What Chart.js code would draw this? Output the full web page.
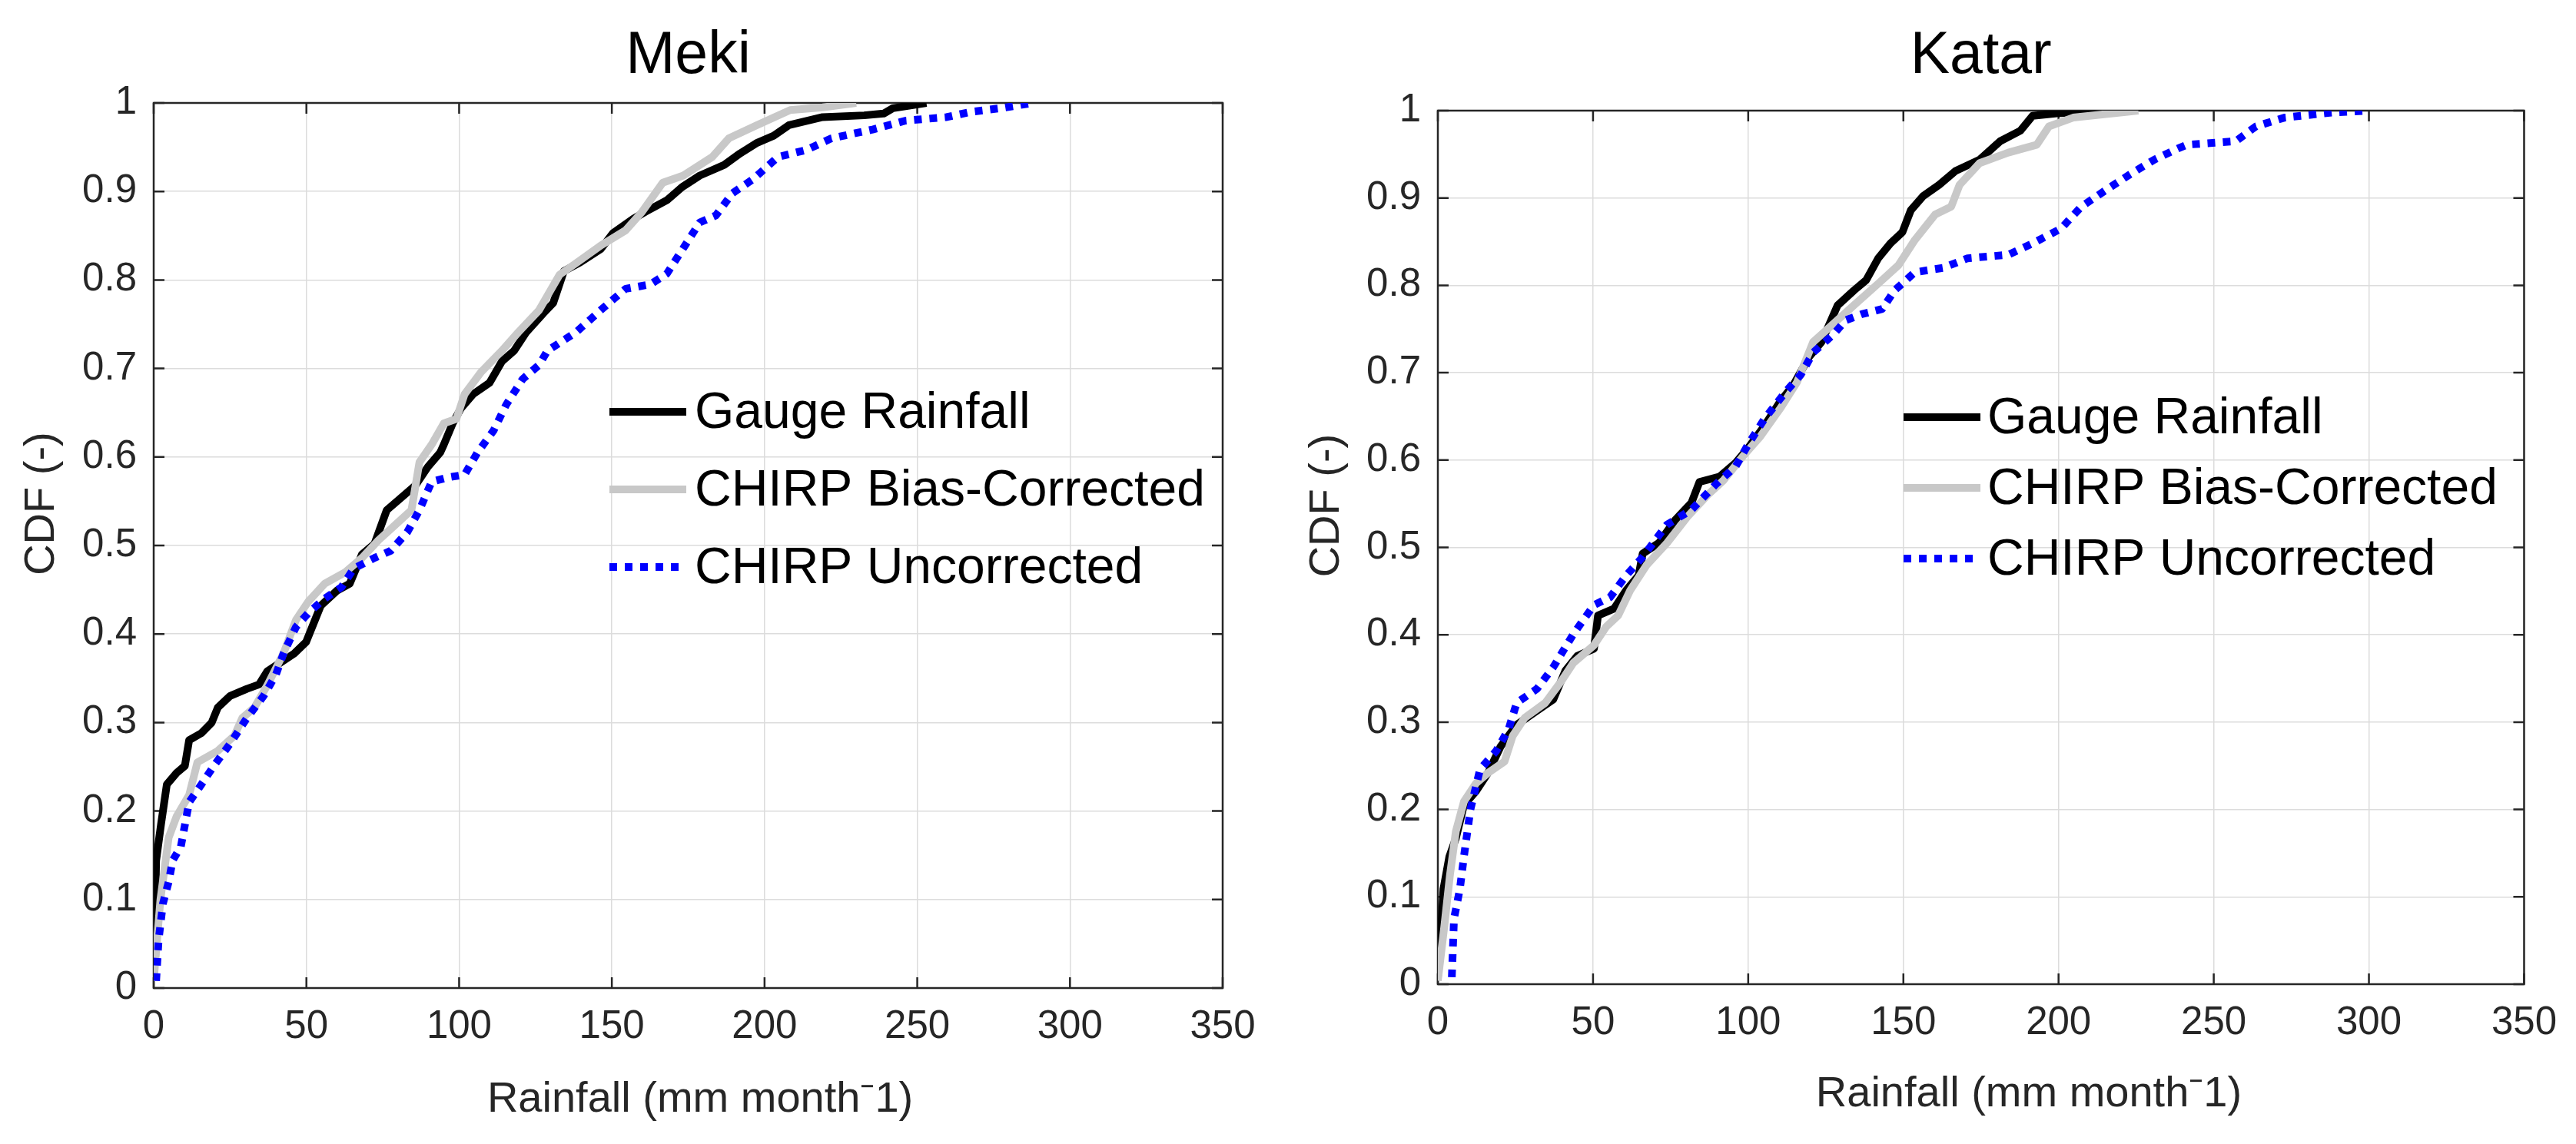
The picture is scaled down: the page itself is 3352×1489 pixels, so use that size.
<!DOCTYPE html>
<html>
<head>
<meta charset="utf-8">
<title>Rainfall CDF - Meki / Katar</title>
<script src="https://cdn.jsdelivr.net/npm/chart.js@4.4.1/dist/chart.umd.min.js"></script>
<style>
    html, body { margin: 0; padding: 0; background: #ffffff; }
    body { width: 3352px; height: 1489px; position: relative; overflow: hidden; }
    .panel { position: absolute; top: 0; height: 1489px; }
    #mekiPanel { left: 0; width: 1680px; }
    #katarPanel { left: 1680px; width: 1672px; }
</style>
</head>
<body>
<div class="panel" id="mekiPanel"><canvas id="mekiChart"></canvas></div>
<div class="panel" id="katarPanel"><canvas id="katarChart"></canvas></div>
<script>
// Series names and axis ticks
const seriesNames = ['Gauge Rainfall', 'CHIRP Bias-Corrected', 'CHIRP Uncorrected'];
const xTickValues = [0, 50, 100, 150, 200, 250, 300, 350];
const xTickLabels = ['0', '50', '100', '150', '200', '250', '300', '350'];
const yTickValues = [0, 0.1, 0.2, 0.3, 0.4, 0.5, 0.6, 0.7, 0.8, 0.9, 1];
const yTickLabels = ['0', '0.1', '0.2', '0.3', '0.4', '0.5', '0.6', '0.7', '0.8', '0.9', '1'];

// Meki - rainfall (mm/month) and CDF
const mekiGaugeRain = [0, 0.8, 2.4, 4.3, 7.5, 10.2, 11.6, 15.6, 19, 21, 25, 30.5, 34.5, 37.2, 41.2, 46, 49.9, 54.7, 60, 64.2, 68.2, 72.3, 76.3, 81.7, 85.7, 89.8, 93.8, 95, 97.9, 100.6, 104.6, 110, 114, 118, 122, 127.5, 130.8, 134.3, 139.7, 146.4, 150.4, 157, 161, 168, 173, 178.8, 186.8, 192, 197.6, 203, 208, 219, 232.6, 239, 242, 253];
const mekiGaugeCdf = [0.008, 0.144, 0.185, 0.23, 0.243, 0.251, 0.28, 0.288, 0.30, 0.317, 0.33, 0.338, 0.343, 0.358, 0.367, 0.378, 0.391, 0.432, 0.449, 0.457, 0.49, 0.502, 0.54, 0.556, 0.568, 0.589, 0.605, 0.614, 0.638, 0.655, 0.671, 0.684, 0.708, 0.72, 0.741, 0.762, 0.774, 0.81, 0.82, 0.835, 0.853, 0.869, 0.877, 0.89, 0.905, 0.918, 0.93, 0.943, 0.955, 0.963, 0.975, 0.984, 0.986, 0.988, 0.994, 1.0];

const mekiBiasRain = [0, 2.2, 4.9, 7.5, 11.6, 14.3, 21, 26.4, 29, 33, 37.2, 42.6, 46.6, 50.7, 56, 62.8, 68.2, 73.6, 79, 84.4, 87, 91, 95, 99.1, 101.8, 107.2, 114, 119.4, 126.2, 132.9, 138.3, 146.4, 154.5, 159.9, 166.7, 173.4, 182.9, 188.3, 197.6, 208.4, 219, 230];
const mekiBiasCdf = [0.008, 0.1, 0.17, 0.194, 0.218, 0.255, 0.268, 0.285, 0.305, 0.317, 0.342, 0.379, 0.416, 0.437, 0.457, 0.47, 0.486, 0.506, 0.523, 0.54, 0.594, 0.614, 0.638, 0.643, 0.671, 0.696, 0.72, 0.741, 0.766, 0.806, 0.819, 0.839, 0.856, 0.877, 0.91, 0.918, 0.939, 0.96, 0.975, 0.992, 0.995, 1.0];

const mekiRawRain = [0.8, 1.6, 3, 4.9, 6.2, 8.9, 11.6, 15.6, 19.7, 25, 30.5, 36, 40, 42.6, 46.6, 50.7, 56, 61.5, 65.5, 72.3, 77.6, 83, 87, 91, 96.5, 101.8, 106, 111.3, 115.4, 120.8, 126.2, 128.9, 138.3, 146.4, 154.5, 162.6, 168, 173.4, 178.8, 184.1, 189.5, 196.3, 204.4, 213.8, 221.9, 235.4, 246.2, 259.6, 267.7, 277.2, 288];
const mekiRawCdf = [0.008, 0.054, 0.095, 0.12, 0.144, 0.16, 0.21, 0.23, 0.251, 0.276, 0.305, 0.33, 0.354, 0.379, 0.408, 0.424, 0.44, 0.453, 0.474, 0.486, 0.494, 0.515, 0.54, 0.572, 0.577, 0.58, 0.605, 0.63, 0.659, 0.688, 0.704, 0.72, 0.741, 0.766, 0.79, 0.795, 0.807, 0.836, 0.865, 0.873, 0.898, 0.914, 0.939, 0.947, 0.96, 0.97, 0.98, 0.984, 0.99, 0.994, 1.0];

// Katar
const katarGaugeRain = [0, 1, 1.8, 3.7, 5.8, 8.4, 12.3, 16.2, 20.2, 25.4, 31.9, 37.2, 41.1, 45, 50.3, 51.6, 56.8, 60.7, 64.7, 66, 71.2, 76.4, 81.7, 84.3, 90.8, 96, 100, 105.2, 110.5, 114.4, 119.6, 123.6, 126.2, 128.8, 134, 138, 141.9, 145.8, 149.7, 152.4, 156.3, 161.5, 166.8, 174.6, 181.2, 187.7, 191.6, 199.5, 215.2];
const katarGaugeCdf = [0.008, 0.058, 0.109, 0.146, 0.167, 0.205, 0.221, 0.242, 0.272, 0.297, 0.313, 0.326, 0.359, 0.376, 0.384, 0.422, 0.43, 0.451, 0.468, 0.493, 0.505, 0.531, 0.551, 0.575, 0.581, 0.597, 0.614, 0.639, 0.668, 0.685, 0.718, 0.735, 0.756, 0.777, 0.794, 0.806, 0.831, 0.848, 0.861, 0.886, 0.902, 0.915, 0.931, 0.944, 0.965, 0.977, 0.994, 0.997, 1.0];

const katarBiasRain = [0, 2.1, 3.9, 5.8, 8.4, 12.3, 16.2, 21.5, 24.1, 28, 34.6, 39.8, 43.7, 50.3, 54.2, 58.1, 62, 67.3, 73.8, 80.4, 86.9, 92.1, 98.7, 103.9, 110.5, 115.7, 120.9, 126.2, 134, 141.9, 148.4, 153.7, 160.2, 165.4, 168.1, 174.6, 183.8, 193, 196.9, 204.7, 215.2, 225.7];
const katarBiasCdf = [0.004, 0.067, 0.125, 0.175, 0.209, 0.23, 0.242, 0.255, 0.284, 0.305, 0.322, 0.347, 0.368, 0.388, 0.409, 0.422, 0.451, 0.48, 0.505, 0.535, 0.56, 0.577, 0.606, 0.627, 0.66, 0.689, 0.735, 0.752, 0.777, 0.802, 0.823, 0.852, 0.881, 0.89, 0.915, 0.94, 0.952, 0.961, 0.982, 0.992, 0.996, 1.0];

const katarRawRain = [4.5, 5.2, 7.1, 8.4, 10.5, 13.6, 18.8, 22.8, 25.4, 31.9, 37.2, 43.7, 50.3, 55.5, 60.7, 66, 73.8, 81.7, 89.5, 96, 100, 105.2, 111.8, 117, 120.9, 127.5, 131.4, 136.6, 143.2, 147.1, 153.7, 162.8, 170.7, 183.8, 191.6, 200.8, 207.3, 215.2, 223, 230.9, 238.7, 241.4, 257.1, 263.6, 272.8, 288.5, 300.3];
const katarRawCdf = [0.008, 0.075, 0.109, 0.146, 0.2, 0.246, 0.267, 0.292, 0.322, 0.338, 0.363, 0.401, 0.434, 0.443, 0.468, 0.489, 0.526, 0.543, 0.572, 0.593, 0.618, 0.647, 0.677, 0.698, 0.723, 0.744, 0.76, 0.767, 0.773, 0.794, 0.815, 0.82, 0.831, 0.835, 0.848, 0.865, 0.89, 0.909, 0.927, 0.944, 0.957, 0.961, 0.965, 0.982, 0.992, 0.998, 1.0];

const FONT = "'Liberation Sans', Arial, Helvetica, sans-serif";
const AXIS_COLOR = '#262626';
const LINE_WIDTH = 10;

// black solid, light grey solid, blue dotted (drawn on top)
const seriesStyle = [
    { color: '#000000', dash: [], order: 3 },
    { color: '#c8c8c8', dash: [], order: 2 },
    { color: '#0000ff', dash: [10, 10], order: 1 }
];

function toPoints(xs, ys) {
    return xs.map((x, i) => ({ x: x, y: ys[i] }));
}

// Box around the axes plus inward tick marks on all four sides
const matlabFrame = {
    id: 'matlabFrame',
    beforeDatasetsDraw(chart) {
        const { ctx, chartArea: a, scales } = chart;
        const len = 14;
        ctx.save();
        ctx.strokeStyle = AXIS_COLOR;
        ctx.lineWidth = 2.5;
        ctx.beginPath();
        scales.x.ticks.forEach(t => {
            const px = scales.x.getPixelForValue(t.value);
            ctx.moveTo(px, a.bottom); ctx.lineTo(px, a.bottom - len);
            ctx.moveTo(px, a.top); ctx.lineTo(px, a.top + len);
        });
        scales.y.ticks.forEach(t => {
            const py = scales.y.getPixelForValue(t.value);
            ctx.moveTo(a.left, py); ctx.lineTo(a.left + len, py);
            ctx.moveTo(a.right, py); ctx.lineTo(a.right - len, py);
        });
        ctx.stroke();
        ctx.strokeRect(a.left, a.top, a.right - a.left, a.bottom - a.top);
        ctx.restore();
    }
};

// Legend without box, sitting inside the axes
const insetLegend = {
    id: 'insetLegend',
    afterDatasetsDraw(chart, args, opts) {
        const { ctx } = chart;
        ctx.save();
        ctx.font = `${opts.fontSize}px ${FONT}`;
        ctx.textBaseline = 'middle';
        ctx.textAlign = 'left';
        chart.data.datasets.forEach((ds, i) => {
            const y = opts.rows[i];
            ctx.beginPath();
            ctx.lineWidth = LINE_WIDTH;
            ctx.lineCap = 'butt';
            ctx.strokeStyle = ds.borderColor;
            ctx.setLineDash(ds.borderDash || []);
            ctx.moveTo(opts.lineStart, y);
            ctx.lineTo(opts.lineEnd, y);
            ctx.stroke();
            ctx.setLineDash([]);
            ctx.fillStyle = '#000000';
            ctx.fillText(ds.label, opts.textX, y + 3);
        });
        ctx.restore();
    }
};

function makeChart(canvasId, cfg) {
    const datasets = cfg.series.map((s, i) => ({
        label: seriesNames[i],
        data: toPoints(s[0], s[1]),
        borderColor: seriesStyle[i].color,
        borderDash: seriesStyle[i].dash,
        borderWidth: LINE_WIDTH,
        borderJoinStyle: 'round',
        borderCapStyle: 'butt',
        pointRadius: 0,
        tension: 0,
        fill: false,
        order: seriesStyle[i].order
    }));

    return new Chart(document.getElementById(canvasId), {
        type: 'line',
        data: { datasets: datasets },
        plugins: [matlabFrame, insetLegend],
        options: {
            responsive: true,
            maintainAspectRatio: false,
            devicePixelRatio: 1,
            animation: false,
            layout: { padding: { left: 0, top: 0, right: cfg.padRight, bottom: 0 } },
            plugins: {
                legend: { display: false },
                tooltip: { enabled: false },
                title: {
                    display: true,
                    text: cfg.title,
                    fullSize: false,
                    color: '#000000',
                    font: { family: FONT, size: 77, weight: 'normal', lineHeight: 1 },
                    padding: { top: 35, bottom: cfg.titleGap }
                },
                insetLegend: cfg.legend
            },
            scales: {
                x: {
                    type: 'linear',
                    min: 0,
                    max: 350,
                    afterBuildTicks: s => { s.ticks = xTickValues.map(v => ({ value: v })); },
                    afterFit: s => { s.height = cfg.xAxisHeight; },
                    ticks: {
                        callback: (v, i) => xTickLabels[i],
                        color: AXIS_COLOR,
                        font: { family: FONT, size: 51, lineHeight: 1 },
                        padding: 25,
                        maxRotation: 0,
                        autoSkip: false
                    },
                    grid: { color: '#dcdcdc', lineWidth: 1.5, drawTicks: false },
                    border: { display: false },
                    title: {
                        display: true,
                        text: cfg.xTitle,
                        color: AXIS_COLOR,
                        font: { family: FONT, size: 56, lineHeight: 1 },
                        padding: { top: 0, bottom: cfg.xTitlePad }
                    }
                },
                y: {
                    type: 'linear',
                    min: 0,
                    max: 1,
                    afterBuildTicks: s => { s.ticks = yTickValues.map(v => ({ value: v })); },
                    afterFit: s => { s.width = cfg.yAxisWidth; },
                    ticks: {
                        callback: (v, i) => yTickLabels[i],
                        color: AXIS_COLOR,
                        font: { family: FONT, size: 51, lineHeight: 1 },
                        padding: 22,
                        autoSkip: false
                    },
                    grid: { color: '#dcdcdc', lineWidth: 1.5, drawTicks: false },
                    border: { display: false },
                    title: {
                        display: true,
                        text: cfg.yTitle,
                        color: AXIS_COLOR,
                        font: { family: FONT, size: 56, lineHeight: 1 },
                        padding: { top: cfg.yTitlePad, bottom: 0 }
                    }
                }
            }
        }
    });
}

let mekiChart, katarChart;
document.addEventListener('DOMContentLoaded', () => {
    mekiChart = makeChart('mekiChart', {
        title: 'Meki',
        series: [[mekiGaugeRain, mekiGaugeCdf], [mekiBiasRain, mekiBiasCdf], [mekiRawRain, mekiRawCdf]],
        padRight: 89,
        titleGap: 22,
        xAxisHeight: 203,
        yAxisWidth: 200,
        // leading spaces nudge the labels to where they sit in the original figure
        xTitle: '  Rainfall (mm month\u207B1)',
        xTitlePad: 29.5,
        yTitle: '       CDF (-)',
        yTitlePad: 27,
        legend: { lineStart: 793, lineEnd: 893, textX: 904, rows: [536, 637, 738], fontSize: 66 }
    });

    katarChart = makeChart('katarChart', {
        title: 'Katar',
        series: [[katarGaugeRain, katarGaugeCdf], [katarBiasRain, katarBiasCdf], [katarRawRain, katarRawCdf]],
        padRight: 56,
        titleGap: 32,
        xAxisHeight: 208,
        yAxisWidth: 191,
        xTitle: '        Rainfall (mm month\u207B1)',
        xTitlePad: 36.5,
        yTitle: '       CDF (-)',
        yTitlePad: 18.5,
        legend: { lineStart: 797, lineEnd: 897, textX: 906, rows: [543, 635, 727], fontSize: 66 }
    });
});
</script>
</body>
</html>
